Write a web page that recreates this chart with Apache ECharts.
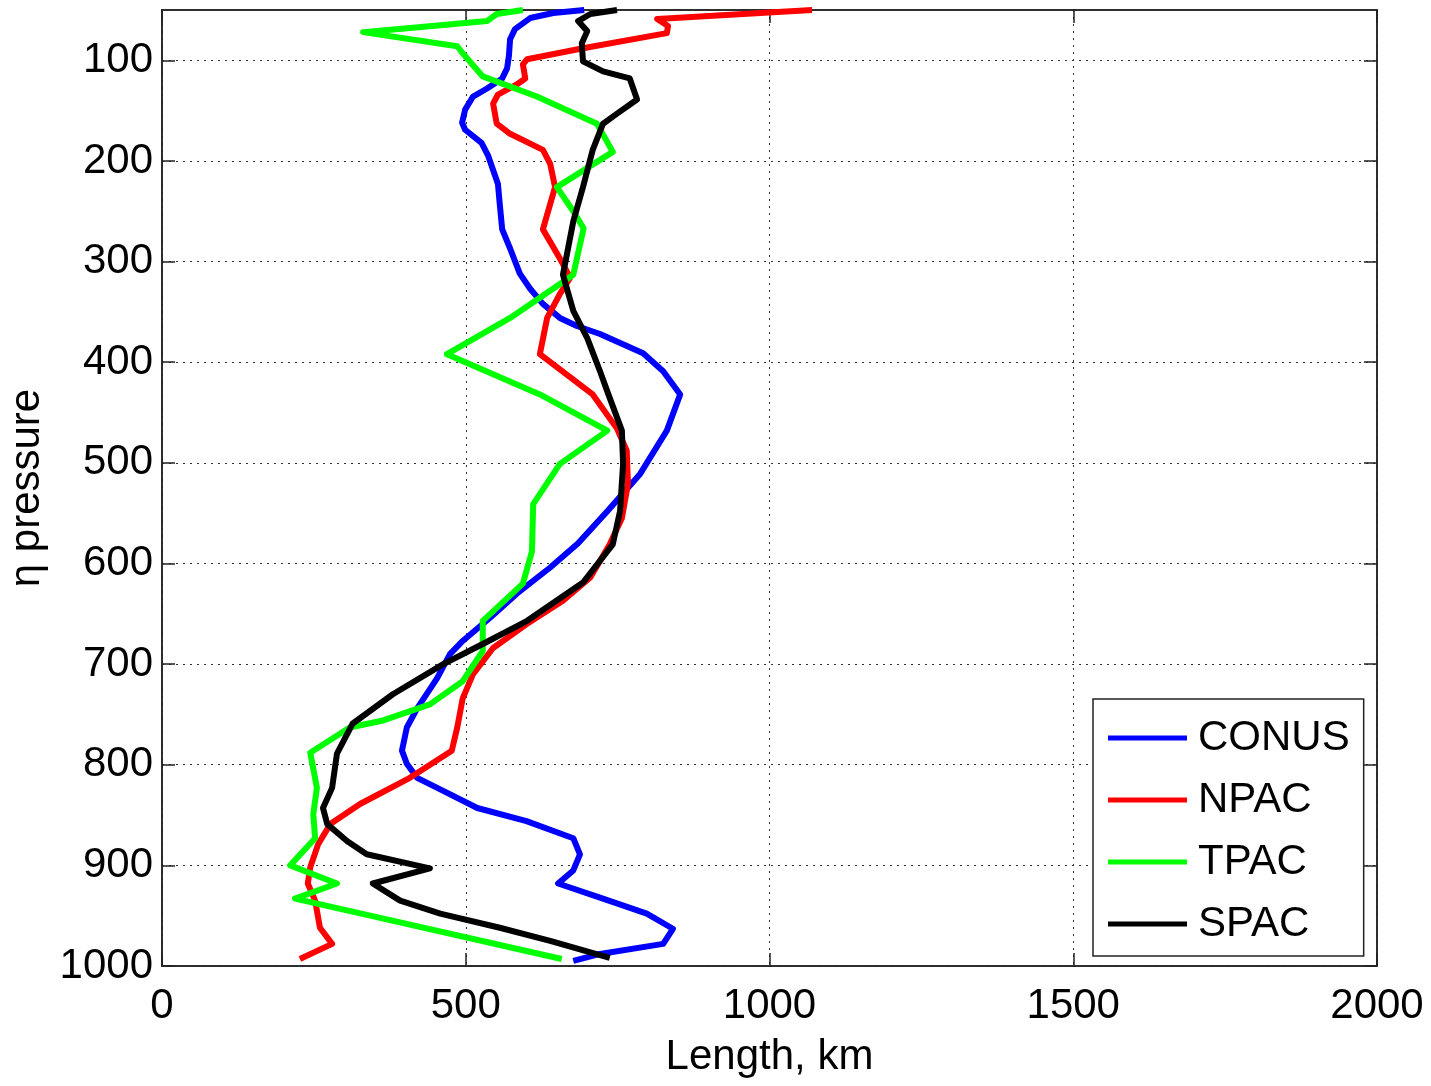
<!DOCTYPE html>
<html>
<head>
<meta charset="utf-8">
<script src="https://cdn.jsdelivr.net/npm/echarts@6/dist/echarts.min.js"></script>
<style>
  html, body { margin: 0; padding: 0; background: #ffffff; }
  #chart { width: 1431px; height: 1086px; }
</style>
</head>
<body>
<div id="chart"></div>
<script>
// Length scale (km) against eta pressure level, one profile per region
const conusPressure = [50, 53, 58, 69, 79, 96, 108, 118, 128, 136, 149, 162, 169, 182, 195, 223, 243, 268, 287, 312,
  327, 342, 356, 364, 372, 391, 409, 432, 468, 511, 548, 580, 604, 630, 654, 677, 690, 714, 744, 763,
  786, 799, 813, 826, 843, 856, 873, 889, 905, 918, 932, 948, 963, 978, 988, 995];
const conusLength = [695, 644, 606, 581, 573, 571, 568, 560, 535, 512, 499, 494, 499, 526, 537, 553, 556, 560, 573, 589,
  606, 627, 655, 683, 721, 792, 825, 853, 831, 787, 733, 685, 639, 584, 540, 495, 474, 453, 420, 403,
  395, 403, 420, 463, 519, 600, 677, 688, 677, 652, 721, 798, 841, 825, 721, 677];

const npacPressure = [50, 59, 66, 73, 88, 99, 104, 118, 124, 134, 143, 163, 173, 189, 203, 226, 268, 297, 316, 332,
  356, 392, 432, 466, 488, 521, 555, 581, 614, 637, 660, 684, 710, 734, 763, 786, 813, 839, 859, 879,
  902, 918, 935, 962, 978, 993];
const npacLength = [1070, 815, 833, 831, 693, 601, 594, 598, 584, 553, 545, 551, 573, 627, 639, 647, 627, 655, 672, 655,
  634, 622, 709, 749, 765, 767, 757, 737, 705, 660, 601, 545, 512, 495, 486, 477, 408, 326, 277, 257,
  244, 240, 252, 260, 280, 227];

const tpacPressure = [50, 54, 61, 72, 86, 93, 116, 136, 163, 191, 226, 250, 267, 313, 336, 356, 392, 432, 468, 501,
  541, 588, 620, 657, 687, 717, 740, 756, 763, 788, 823, 849, 873, 900, 918, 933, 993];
const tpacLength = [594, 551, 535, 331, 486, 495, 528, 617, 716, 742, 650, 677, 694, 677, 622, 573, 469, 622, 733, 655,
  611, 609, 594, 528, 528, 495, 441, 364, 309, 244, 255, 249, 252, 211, 288, 219, 658];

const spacPressure = [50, 54, 61, 71, 83, 101, 111, 118, 139, 153, 163, 189, 226, 260, 313, 349, 376, 409, 429, 468,
  501, 548, 581, 619, 657, 680, 700, 730, 759, 789, 823, 843, 859, 876, 889, 903, 918, 935, 948, 962,
  975, 992];
const spacLength = [749, 705, 685, 700, 691, 693, 726, 770, 782, 749, 726, 709, 693, 677, 660, 677, 700, 721, 733, 757,
  759, 754, 742, 693, 601, 528, 463, 380, 314, 288, 280, 265, 272, 305, 337, 441, 347, 392, 458, 556,
  639, 737];

const regionNames = ['CONUS', 'NPAC', 'TPAC', 'SPAC'];
const lengthTicks = [0, 500, 1000, 1500, 2000];
const pressureTicks = [100, 200, 300, 400, 500, 600, 700, 800, 900, 1000];

const FONT = '"Liberation Sans", Arial, Helvetica, sans-serif';
const FONT_SIZE = 42;
const AXIS_COLOR = '#222222';

function profile(lengths, pressures) {
  return lengths.map((v, i) => [v, pressures[i]]);
}

function plainNumber(v) {
  return String(v);
}

function lineSeries(name, color, lengths, pressures) {
  return {
    name: name,
    type: 'line',
    xAxisIndex: 0,
    yAxisIndex: 0,
    data: profile(lengths, pressures),
    showSymbol: false,
    symbol: 'none',
    lineStyle: { color: color, width: 6, join: 'round' },
    itemStyle: { color: color },
    emphasis: { disabled: true }
  };
}

const chart = echarts.init(document.getElementById('chart'), null, { renderer: 'canvas' });

const gridLine = { show: true, lineStyle: { color: '#333333', width: 1, type: [2, 5] } };
const boxLine = { show: true, onZero: false, lineStyle: { color: AXIS_COLOR, width: 1.5 } };

chart.setOption({
  animation: false,
  backgroundColor: '#ffffff',
  textStyle: { fontFamily: FONT, color: '#000000' },
  grid: {
    left: 162, right: 54, top: 10, bottom: 120,
    outerBoundsMode: 'none',
    containLabel: false,
    show: true, borderColor: AXIS_COLOR, borderWidth: 1.5, backgroundColor: 'transparent'
  },
  legend: {
    orient: 'vertical',
    left: 1093,
    top: 699,
    data: regionNames,
    icon: 'rect',
    itemWidth: 79,
    itemHeight: 5,
    itemGap: 18,
    padding: [17, 14, 10, 15],
    backgroundColor: '#ffffff',
    borderColor: AXIS_COLOR,
    borderWidth: 1.5,
    selectedMode: false,
    textStyle: { fontFamily: FONT, fontSize: FONT_SIZE, lineHeight: 44, color: '#000000', padding: [0, 0, 0, 6] }
  },
  xAxis: [
    {
      type: 'value',
      position: 'bottom',
      min: 0,
      max: 2000,
      interval: 500,
      name: 'Length, km',
      nameLocation: 'middle',
      nameGap: 70,
      nameTextStyle: { fontFamily: FONT, fontSize: FONT_SIZE, color: '#000000' },
      axisLine: boxLine,
      axisTick: { show: true, inside: true, length: 13, customValues: lengthTicks, lineStyle: { color: AXIS_COLOR, width: 1.5 } },
      axisLabel: { show: true, margin: 19, fontSize: FONT_SIZE, fontFamily: FONT, color: '#000000', customValues: lengthTicks, formatter: plainNumber },
      splitLine: gridLine
    },
    {
      type: 'value',
      position: 'top',
      min: 0,
      max: 2000,
      interval: 500,
      axisLine: boxLine,
      axisTick: { show: true, inside: true, length: 13, customValues: lengthTicks, lineStyle: { color: AXIS_COLOR, width: 1.5 } },
      axisLabel: { show: false },
      splitLine: { show: false }
    }
  ],
  yAxis: [
    {
      type: 'value',
      position: 'left',
      inverse: true,
      min: 50,
      max: 1000,
      splitNumber: 10,
      name: 'η pressure',
      nameLocation: 'middle',
      nameRotate: 90,
      nameGap: 112,
      nameTextStyle: { fontFamily: FONT, fontSize: FONT_SIZE, color: '#000000' },
      axisLine: boxLine,
      axisTick: { show: true, inside: true, length: 13, customValues: pressureTicks, lineStyle: { color: AXIS_COLOR, width: 1.5 } },
      axisLabel: { show: true, margin: 9, fontSize: FONT_SIZE, fontFamily: FONT, color: '#000000', customValues: pressureTicks, formatter: plainNumber },
      splitLine: gridLine
    },
    {
      type: 'value',
      position: 'right',
      inverse: true,
      min: 50,
      max: 1000,
      splitNumber: 10,
      axisLine: boxLine,
      axisTick: { show: true, inside: true, length: 13, customValues: pressureTicks, lineStyle: { color: AXIS_COLOR, width: 1.5 } },
      axisLabel: { show: false },
      splitLine: { show: false }
    }
  ],
  series: [
    lineSeries(regionNames[0], '#0000ff', conusLength, conusPressure),
    lineSeries(regionNames[1], '#ff0000', npacLength, npacPressure),
    lineSeries(regionNames[2], '#00ff00', tpacLength, tpacPressure),
    lineSeries(regionNames[3], '#000000', spacLength, spacPressure)
  ]
});
</script>
</body>
</html>
